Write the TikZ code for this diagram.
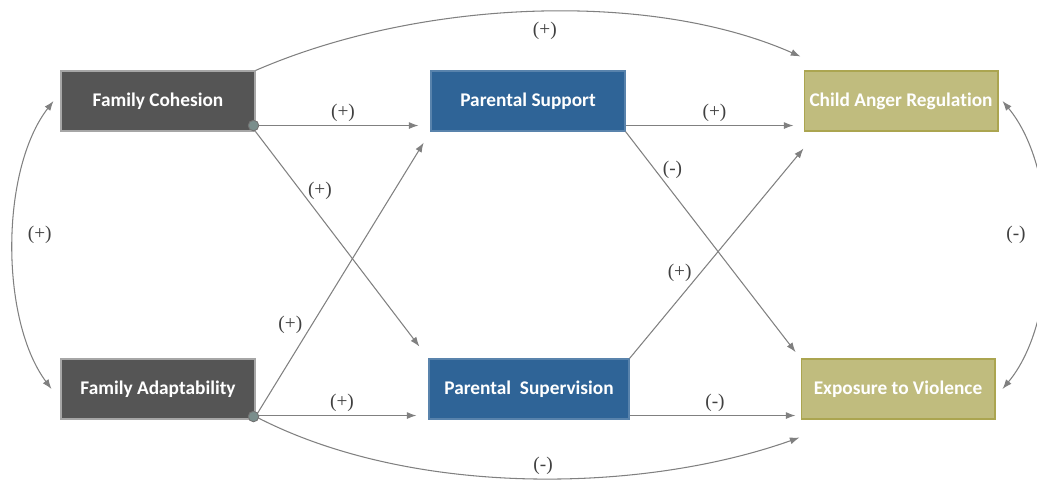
\documentclass[tikz,border=0pt]{standalone}
\usepackage{fontspec}
\setmainfont{Liberation Serif}
\newfontfamily\boxfont{Carlito}[Ligatures=NoCommon]
\usepackage{tikz}
\usetikzlibrary{arrows.meta, positioning, calc}

\definecolor{familygray}{HTML}{555555}
\definecolor{parentblue}{HTML}{2F6497}
\definecolor{childolive}{HTML}{C0BC7E}
\definecolor{olivedge}{HTML}{ABA550}
\definecolor{linkgray}{HTML}{808080}
\definecolor{dotfill}{HTML}{7A8E8C}

\begin{document}
\begin{tikzpicture}[x=0.02cm, y=-0.02cm,
            factor/.style={minimum width=3.88cm, minimum height=1.2cm, inner sep=0pt,
                text=white, font=\boxfont\fontsize{11}{13}\selectfont\bfseries, line width=0.6pt},
            family/.style={factor, fill=familygray, draw=gray!70},
            parent/.style={factor, fill=parentblue, draw=parentblue!80},
            child/.style={factor, fill=childolive, draw=olivedge},
            link/.style={draw=linkgray, line width=0.6pt, -{Latex[length=5.5pt, width=4pt]}},
            sign/.style={font=\fontsize{11}{13}\selectfont, text=black!75, inner sep=2pt},
            dot/.style={circle, fill=dotfill, draw=black!55, line width=0.5pt, minimum size=6pt, inner sep=0pt}]

            \useasboundingbox (0,0) rectangle (1037,485);

            % Factors
            \node[family] (fc) at (158,101) {Family Cohesion};
            \node[family] (fa) at (158,389) {Family Adaptability};
            \node[parent] (ps) at (528,101) {Parental Support};
            \node[parent, minimum width=4cm] (psup) at (529,389) {Parental~ Supervision};
            \node[child] (car) at (901,101) {Child Anger Regulation};
            \node[child] (ev) at (898,389) {Exposure to Violence};

            % Paths from the family
            \draw[link, shorten >=0.24cm] ([yshift=0.12cm]fc.south east) -- ([yshift=0.12cm]ps.south west)
                node[sign, midway, above] (s1) {(+)};
            \draw[link, shorten >=0.3cm] (fc.south east) -- (psup.north west)
                node[sign, pos=0.26, right=2pt] (s2) {(+)};
            \draw[link, shorten >=0.26cm] ([yshift=0.06cm]fa.south east) -- (ps.south west)
                node[sign, pos=0.32, left=3pt] (s3) {(+)};
            \draw[link, shorten >=0.24cm] ([yshift=0.08cm]fa.south east) -- ([yshift=0.08cm]psup.south west)
                node[sign, midway, above] (s4) {(+)};

            % Paths from the parents
            \draw[link, shorten >=0.2cm] ([yshift=0.12cm]ps.south east) -- ([yshift=0.12cm]car.south west)
                node[sign, midway, above] (s5) {(+)};
            \draw[link, shorten >=0.16cm] (ps.south east) -- (ev.north west)
                node[sign, pos=0.17, right=2pt] (s6) {(-)};
            \draw[link] (psup.north east) -- ([yshift=-0.34cm]car.south west)
                node[sign, pos=0.41, left=3pt] (s7) {(+)};
            \draw[link, shorten >=0.1cm] ([yshift=0.08cm]psup.south east) -- ([yshift=0.08cm]ev.south west)
                node[sign, midway, above] (s8) {(-)};

            % Direct paths
            \draw[link] (fc.north east) .. controls (420,-1) and (650,-10) .. ([xshift=-0.06cm, yshift=0.28cm]car.north west)
                node[sign, pos=0.52, below=4pt] (s9) {(+)};
            \draw[link] ([yshift=0.06cm]fa.south east) .. controls (410,497) and (640,494) .. ([xshift=-0.02cm, yshift=-0.36cm]ev.south west)
                node[sign, pos=0.53, above=0pt] (s10) {(-)};

            % Correlations
            \draw[link, {Latex[length=5.5pt, width=4pt]}-{Latex[length=5.5pt, width=4pt]}]
                ([xshift=-0.14cm]fc.west) .. controls (0,170) and (0,320) .. ([xshift=-0.18cm]fa.west)
                node[sign, pos=0.47, right=6pt] (s11) {(+)};
            \draw[link, {Latex[length=5.5pt, width=4pt]}-{Latex[length=5.5pt, width=4pt]}]
                ([xshift=0.08cm]car.east) .. controls (1060,170) and (1060,320) .. ([xshift=0.14cm]ev.east)
                node[sign, pos=0.47, left=9pt] (s12) {(-)};

            % Corner dots
            \node[dot] (fcdot) at ([xshift=-0.04cm, yshift=0.12cm]fc.south east) {};
            \node[dot] (fadot) at ([xshift=-0.04cm, yshift=0.06cm]fa.south east) {};
        \end{tikzpicture}
\end{document}
